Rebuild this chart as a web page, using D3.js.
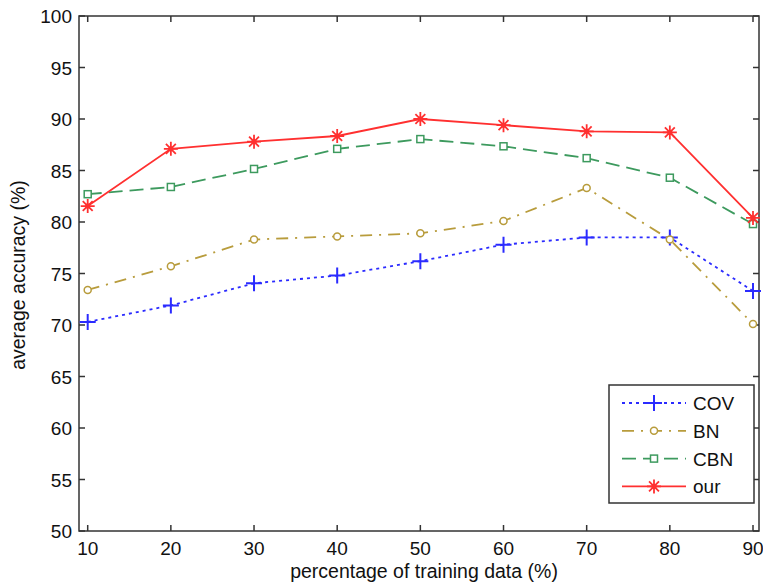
<!DOCTYPE html>
<html>
<head>
  <meta charset="utf-8">
  <title>average accuracy</title>
  <script src="https://d3js.org/d3.v7.min.js"></script>
  <style>
    body { margin: 0; background: #fff; }
    text { font-family: "Liberation Sans", Arial, sans-serif; fill: #111; }
  </style>
</head>
<body>
<script>
  var w = 763, h = 587;

  // training data percentages
  var trainPct = [10, 20, 30, 40, 50, 60, 70, 80, 90];
  var yTicks = [50, 55, 60, 65, 70, 75, 80, 85, 90, 95, 100];

  var cov = [70.3, 71.9, 74.05, 74.8, 76.2, 77.8, 78.5, 78.5, 73.3];
  var bn  = [73.4, 75.7, 78.3, 78.6, 78.9, 80.1, 83.3, 78.3, 70.1];
  var cbn = [82.7, 83.4, 85.15, 87.1, 88.05, 87.35, 86.2, 84.3, 79.8];
  var our = [81.55, 87.1, 87.8, 88.35, 90.0, 89.4, 88.8, 88.7, 80.4];

  var seriesNames = ["COV", "BN", "CBN", "our"];

  var series = [
    {name: "COV", vals: cov, color: "#2b2bff", dash: "3,4", marker: "plus"},
    {name: "BN",  vals: bn,  color: "#b89c3c", dash: "12,7,2,7", marker: "circle"},
    {name: "CBN", vals: cbn, color: "#3d9a5e", dash: "14,7", marker: "square"},
    {name: "our", vals: our, color: "#ff3030", dash: null, marker: "star"}
  ];

  var pL = 79, pR = 759, pT = 16, pB = 531;

  // 10 -> 87.7, 90 -> 753
  var x = d3.scaleLinear().domain([10, 90]).range([87.7, 753]);
  var y = d3.scaleLinear().domain([50, 100]).range([pB, pT]);

  var svg = d3.select("body").append("svg").attr("width", w).attr("height", h);

  // box
  svg.append("rect")
    .attr("x", pL).attr("y", pT)
    .attr("width", pR - pL).attr("height", pB - pT)
    .attr("fill", "none").attr("stroke", "#333").attr("stroke-width", 1.5);

  // inward ticks on all sides
  var tl = 6;
  var xt = svg.append("g");
  trainPct.forEach(function(v){
    xt.append("line").attr("x1", x(v)).attr("x2", x(v)).attr("y1", pB).attr("y2", pB - tl);
    xt.append("line").attr("x1", x(v)).attr("x2", x(v)).attr("y1", pT).attr("y2", pT + tl);
    svg.append("text").attr("x", x(v)).attr("y", pB + 24)
      .attr("text-anchor", "middle").attr("font-size", "19px").text(v);
  });
  yTicks.forEach(function(v){
    xt.append("line").attr("x1", pL).attr("x2", pL + tl).attr("y1", y(v)).attr("y2", y(v));
    xt.append("line").attr("x1", pR).attr("x2", pR - tl).attr("y1", y(v)).attr("y2", y(v));
    svg.append("text").attr("x", pL - 7).attr("y", y(v) + 7)
      .attr("text-anchor", "end").attr("font-size", "19px").text(v);
  });
  xt.selectAll("line").attr("stroke", "#333").attr("stroke-width", 1.5);

  // axis labels
  svg.append("text").attr("x", 424).attr("y", 578)
    .attr("text-anchor", "middle").attr("font-size", "19.5px")
    .text("percentage of training data (%)");
  svg.append("text")
    .attr("transform", "translate(25,275) rotate(-90)")
    .attr("text-anchor", "middle").attr("font-size", "19.5px")
    .text("average accuracy (%)");

  function drawMarker(g, type, cx, cy, color){
    if(type == "plus"){
      g.append("path").attr("d", "M" + (cx-8) + "," + cy + "H" + (cx+8) + "M" + cx + "," + (cy-8) + "V" + (cy+8))
        .attr("stroke", color).attr("stroke-width", 2).attr("fill", "none");
    } else if(type == "circle"){
      g.append("circle").attr("cx", cx).attr("cy", cy).attr("r", 3.5)
        .attr("stroke", color).attr("stroke-width", 1.5).attr("fill", "#fff");
    } else if(type == "square"){
      g.append("rect").attr("x", cx-3.5).attr("y", cy-3.5).attr("width", 7).attr("height", 7)
        .attr("stroke", color).attr("stroke-width", 1.5).attr("fill", "#fff");
    } else {
      var r = 7, p = "";
      for(var i = 0; i < 4; i++){
        var a = i * Math.PI / 4;
        p += "M" + (cx - r*Math.cos(a)) + "," + (cy - r*Math.sin(a)) + "L" + (cx + r*Math.cos(a)) + "," + (cy + r*Math.sin(a));
      }
      g.append("path").attr("d", p).attr("stroke", color).attr("stroke-width", 1.8).attr("fill", "none");
      g.append("circle").attr("cx", cx).attr("cy", cy).attr("r", 2.5).attr("fill", color);
    }
  }

  var line = d3.line().x(function(d, i){ return x(trainPct[i]); }).y(function(d){ return y(d); });

  series.forEach(function(s){
    var g = svg.append("g");
    g.append("path").datum(s.vals).attr("d", line)
      .attr("fill", "none").attr("stroke", s.color).attr("stroke-width", 1.8)
      .attr("stroke-dasharray", s.dash);
    s.vals.forEach(function(v, i){ drawMarker(g, s.marker, x(trainPct[i]), y(v), s.color); });
  });

  // legend
  var lg = svg.append("g");
  lg.append("rect").attr("x", 609).attr("y", 385).attr("width", 145).attr("height", 118)
    .attr("fill", "#fff").attr("stroke", "#333").attr("stroke-width", 1.5);
  series.forEach(function(s, i){
    var ly = 403 + i * 27.8;
    lg.append("line").attr("x1", 622).attr("x2", 686).attr("y1", ly).attr("y2", ly)
      .attr("stroke", s.color).attr("stroke-width", 1.8).attr("stroke-dasharray", s.dash);
    drawMarker(lg, s.marker, 654, ly, s.color);
    lg.append("text").attr("x", 693).attr("y", ly + 7).attr("font-size", "19px").text(seriesNames[i]);
  });
</script>
</body>
</html>
